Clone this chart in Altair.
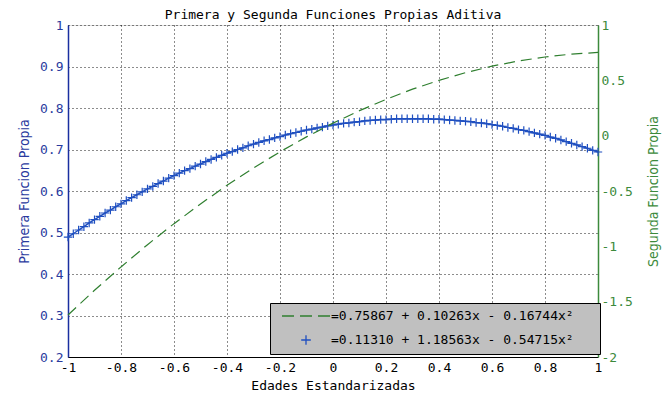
import altair as alt
import pandas as pd

# ---- data ----
x_blue = [-1.00, -0.98, -0.96, -0.94, -0.92, -0.90, -0.88, -0.86, -0.84, -0.82,
          -0.80, -0.78, -0.76, -0.74, -0.72, -0.70, -0.68, -0.66, -0.64, -0.62,
          -0.60, -0.58, -0.56, -0.54, -0.52, -0.50, -0.48, -0.46, -0.44, -0.42,
          -0.40, -0.38, -0.36, -0.34, -0.32, -0.30, -0.28, -0.26, -0.24, -0.22,
          -0.20, -0.18, -0.16, -0.14, -0.12, -0.10, -0.08, -0.06, -0.04, -0.02,
          0.00, 0.02, 0.04, 0.06, 0.08, 0.10, 0.12, 0.14, 0.16, 0.18,
          0.20, 0.22, 0.24, 0.26, 0.28, 0.30, 0.32, 0.34, 0.36, 0.38,
          0.40, 0.42, 0.44, 0.46, 0.48, 0.50, 0.52, 0.54, 0.56, 0.58,
          0.60, 0.62, 0.64, 0.66, 0.68, 0.70, 0.72, 0.74, 0.76, 0.78,
          0.80, 0.82, 0.84, 0.86, 0.88, 0.90, 0.92, 0.94, 0.96, 0.98,
          1.00]
y_blue = [0.489, 0.497, 0.506, 0.514, 0.523, 0.531, 0.539, 0.547, 0.554, 0.562,
          0.569, 0.577, 0.584, 0.591, 0.598, 0.605, 0.611, 0.618, 0.624, 0.631,
          0.637, 0.643, 0.649, 0.654, 0.660, 0.665, 0.671, 0.676, 0.681, 0.686,
          0.691, 0.695, 0.700, 0.704, 0.709, 0.713, 0.717, 0.721, 0.724, 0.728,
          0.731, 0.735, 0.738, 0.741, 0.744, 0.747, 0.749, 0.752, 0.754, 0.757,
          0.759, 0.761, 0.763, 0.764, 0.766, 0.767, 0.769, 0.770, 0.771, 0.772,
          0.772, 0.773, 0.774, 0.774, 0.774, 0.774, 0.774, 0.774, 0.774, 0.773,
          0.773, 0.772, 0.771, 0.770, 0.769, 0.768, 0.767, 0.765, 0.764, 0.762,
          0.760, 0.758, 0.756, 0.753, 0.751, 0.748, 0.746, 0.743, 0.740, 0.737,
          0.734, 0.730, 0.727, 0.723, 0.719, 0.715, 0.711, 0.707, 0.703, 0.698,
          0.694]

x_green = [-1.0, -0.9, -0.8, -0.7, -0.6, -0.5, -0.4, -0.3, -0.2, -0.1, 0.0,
           0.1, 0.2, 0.3, 0.4, 0.5, 0.6, 0.7, 0.8, 0.9, 1.0]
y_green = [-1.620, -1.397, -1.186, -0.985, -0.795, -0.617, -0.449, -0.292, -0.146, -0.011, 0.113,
           0.226, 0.328, 0.420, 0.500, 0.569, 0.628, 0.675, 0.711, 0.737, 0.752]

PAD = "\u2800\u2800"  # blank cells so the legend box reaches the right like the reference
legend_labels = ["=0.75867 + 0.10263x - 0.16744x²" + PAD,
                 "=0.11310 + 1.18563x - 0.54715x²" + PAD]

x_ticks = [-1, -0.8, -0.6, -0.4, -0.2, 0, 0.2, 0.4, 0.6, 0.8, 1]
left_ticks = [0.2, 0.3, 0.4, 0.5, 0.6, 0.7, 0.8, 0.9, 1]
right_ticks = [-2, -1.5, -1, -0.5, 0, 0.5, 1]

# ---- styles ----
BLUE = "#1f4fc0"
BLUE_AXIS = "#1a2fa0"
BLUE_TEXT = "#2a3a9e"
GREEN = "#2f7f2f"
GREEN_AXIS = "#3c8a3c"
MONO = "DejaVu Sans Mono"
NARROW = "DejaVu Sans Condensed, Liberation Sans, sans-serif"
DASH_PATH = "M-4,0H-2M-1,0H1M2,0H4"
PLUS_PATH = "M-0.8,0H0.8M0,-0.8V0.8"

blue_df = pd.DataFrame({"x": x_blue, "y": y_blue, "serie": legend_labels[1]})
green_df = pd.DataFrame({"x": x_green, "y": y_green})

x_enc = alt.X(
    "x:Q",
    scale=alt.Scale(domain=[-1, 1], nice=False, zero=False),
    axis=alt.Axis(
        values=x_ticks, labelExpr="'' + datum.value", title="Edades Estandarizadas",
        grid=True, gridColor="black", gridDash=[1, 3], gridOpacity=0.9,
        ticks=False, domainColor="black", domainWidth=1,
        labelFont=MONO, labelFontSize=13, labelColor="black", labelPadding=4,
        titleFont=MONO, titleFontSize=13, titleFontWeight="normal", titleColor="black",
        titlePadding=5, labelFlush=False,
    ),
)

y_left = alt.Y(
    "y:Q",
    scale=alt.Scale(domain=[0.2, 1], nice=False, zero=False),
    axis=alt.Axis(
        orient="left", values=left_ticks, labelExpr="'' + datum.value",
        title="Primera Funcion Propia",
        grid=True, gridColor="black", gridDash=[1, 3], gridOpacity=0.9,
        ticks=False, domainColor=BLUE_AXIS, domainWidth=1.5,
        labelFont=MONO, labelFontSize=13, labelColor=BLUE_TEXT, labelPadding=5,
        titleFont=NARROW, titleFontSize=14, titleFontWeight="normal", titleColor=BLUE_TEXT,
        titlePadding=8, labelFlush=False,
    ),
)

y_right = alt.Y(
    "y:Q",
    scale=alt.Scale(domain=[-2, 1], nice=False, zero=False),
    axis=alt.Axis(
        orient="right", values=right_ticks, labelExpr="'' + datum.value",
        title="Segunda Funcion Propia", titleAngle=270,
        grid=False, ticks=False, domainColor=GREEN_AXIS, domainWidth=1.5,
        labelFont=MONO, labelFontSize=13, labelColor=GREEN_AXIS, labelPadding=3,
        titleFont=NARROW, titleFontSize=14, titleFontWeight="normal", titleColor=GREEN_AXIS,
        titlePadding=28, labelFlush=False,
    ),
)

legend_props = dict(
    title=None, orient="none", legendX=202, legendY=278,
    fillColor="#c0c0c0", strokeColor="black", padding=6,
    labelFont=MONO, labelFontSize=13, labelColor="black", labelLimit=400,
    symbolSize=144, symbolStrokeWidth=1.3, symbolOffset=23, labelOffset=18,
    rowPadding=9,
)

blue_line = alt.Chart(blue_df).mark_line(color=BLUE, strokeWidth=1.5).encode(x=x_enc, y=y_left)
blue_pts = alt.Chart(blue_df).mark_point(filled=False, strokeWidth=1.2, size=110, opacity=1).encode(
    x=x_enc,
    y=y_left,
    color=alt.Color("serie:N", scale=alt.Scale(domain=legend_labels, range=[GREEN, BLUE]),
                    legend=alt.Legend(**legend_props)),
    shape=alt.Shape("serie:N", scale=alt.Scale(domain=legend_labels, range=[DASH_PATH, PLUS_PATH]),
                    legend=alt.Legend(**legend_props)),
)

green_line = alt.Chart(green_df).mark_line(color=GREEN, strokeDash=[11, 6], strokeWidth=1.2).encode(
    x=x_enc, y=y_right
)

chart = (
    alt.layer(alt.layer(blue_line, blue_pts), green_line)
    .resolve_scale(y="independent")
    .properties(
        width=530, height=332,
        autosize=alt.AutoSizeParams(type="none"),
        padding={"left": 60, "top": 17, "right": 64, "bottom": 37},
        title=alt.TitleParams("Primera y Segunda Funciones Propias Aditiva", font=MONO,
                              fontSize=13, fontWeight="normal", color="black", offset=7,
                              dy=10, frame="group"),
    )
    .configure_view(stroke="black", strokeWidth=1)
    .configure(background="white")
)

chart.save("out.html", embed_options={"renderer": "svg", "actions": False})
